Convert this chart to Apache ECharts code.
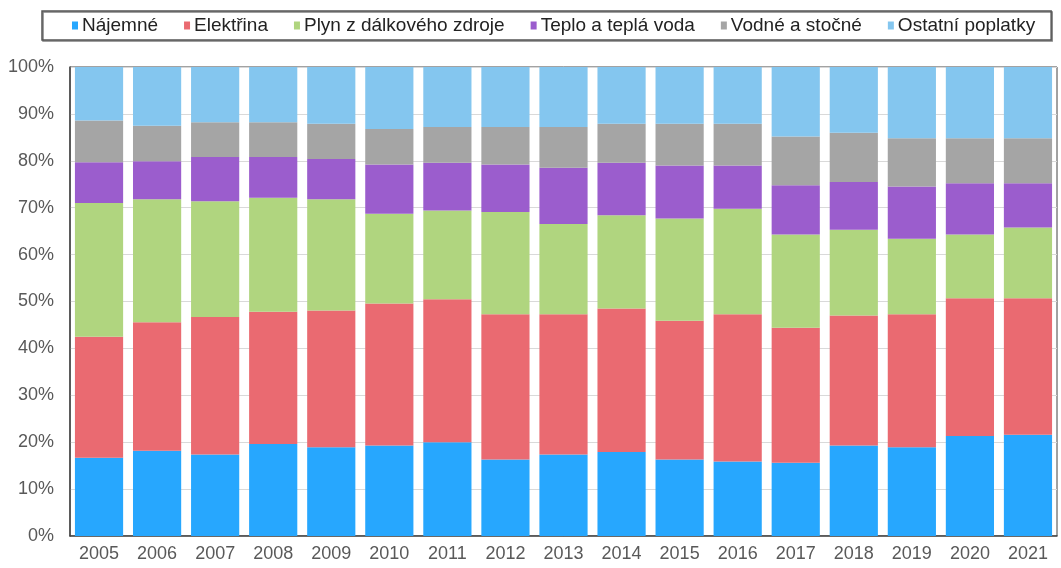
<!DOCTYPE html>
<html>
<head>
<meta charset="utf-8">
<script src="https://cdn.jsdelivr.net/npm/echarts@6/dist/echarts.min.js"></script>
<style>
  html, body { margin: 0; padding: 0; background: #fff; }
  #chart { width: 1061px; height: 568px; }
</style>
</head>
<body>
<div id="chart"></div>
<script>
var years = ['2005', '2006', '2007', '2008', '2009', '2010', '2011', '2012', '2013',
  '2014', '2015', '2016', '2017', '2018', '2019', '2020', '2021'];
var yTicks = ['0%', '10%', '20%', '30%', '40%', '50%', '60%', '70%', '80%', '90%', '100%'];

// podíly v %
var najemne = [16.7, 18.2, 17.4, 19.6, 18.9, 19.3, 20.0, 16.3, 17.4, 17.9, 16.3, 15.9, 15.6, 19.3, 18.9, 21.3, 21.6];
var elektrina = [25.8, 27.4, 29.3, 28.2, 29.2, 30.3, 30.5, 31.0, 29.9, 30.6, 29.6, 31.4, 28.8, 27.7, 28.4, 29.4, 29.1];
var plyn = [28.5, 26.2, 24.7, 24.3, 23.7, 19.1, 18.9, 21.8, 19.2, 19.9, 21.8, 22.5, 19.9, 18.3, 16.1, 13.6, 15.1];
var teplo = [8.7, 8.1, 9.4, 8.7, 8.6, 10.5, 10.2, 10.1, 12.0, 11.2, 11.3, 9.2, 10.5, 10.2, 11.1, 10.9, 9.4];
var vodne = [8.9, 7.6, 7.4, 7.4, 7.5, 7.6, 7.6, 8.0, 8.7, 8.3, 8.9, 8.9, 10.4, 10.5, 10.3, 9.6, 9.6];
var ostatni = [11.4, 12.5, 11.8, 11.8, 12.1, 13.2, 12.8, 12.8, 12.8, 12.1, 12.1, 12.1, 14.8, 14.0, 15.2, 15.2, 15.2];

var names = ['Nájemné', 'Elektřina', 'Plyn z dálkového zdroje', 'Teplo a teplá voda', 'Vodné a stočné', 'Ostatní poplatky'];
var values = [najemne, elektrina, plyn, teplo, vodne, ostatni];
var colors = ['#27A7FE', '#EA6A71', '#B0D57F', '#9B5DCD', '#A5A5A5', '#84C6EF'];

var chart = echarts.init(document.getElementById('chart'));

var series = [];
for (var i = 0; i < names.length; i++) {
  series.push({
    name: names[i],
    type: 'bar',
    stack: 'total',
    barCategoryGap: '17%',
    itemStyle: { color: colors[i] },
    data: values[i]
  });
}

var option = {
  animation: false,
  textStyle: { fontFamily: 'Liberation Sans, Arial, sans-serif' },
  color: colors,
  legend: {
    left: 42,
    top: 11,
    padding: [5, 16, 5, 30],
    itemWidth: 6,
    itemHeight: 8,
    itemGap: 26,
    borderColor: '#555',
    borderWidth: 1.5,
    shadowColor: 'rgba(0,0,0,0.5)',
    shadowOffsetX: 1,
    shadowOffsetY: 1,
    icon: 'rect',
    textStyle: { fontSize: 19, color: '#222', padding: [0, 0, 0, -1] },
    data: names
  },
  grid: {
    left: 70,
    right: 4,
    top: 67,
    bottom: 32,
    show: true,
    borderColor: '#444',
    borderWidth: 1
  },
  xAxis: {
    type: 'category',
    data: years,
    axisLine: { lineStyle: { color: '#444', width: 1.5 } },
    axisTick: { show: false },
    axisLabel: { color: '#595959', fontSize: 18, margin: 9 }
  },
  yAxis: {
    type: 'value',
    min: 0,
    max: 100,
    interval: 10,
    axisLine: { show: true, lineStyle: { color: '#444', width: 1.5 } },
    axisTick: { show: false },
    splitLine: { lineStyle: { color: '#D9D9D9' } },
    axisLabel: {
      color: '#595959',
      fontSize: 18,
      margin: 16,
      formatter: function (v) { return yTicks[Math.round(v / 10)]; }
    }
  },
  series: series
};

chart.setOption(option);
</script>
</body>
</html>
